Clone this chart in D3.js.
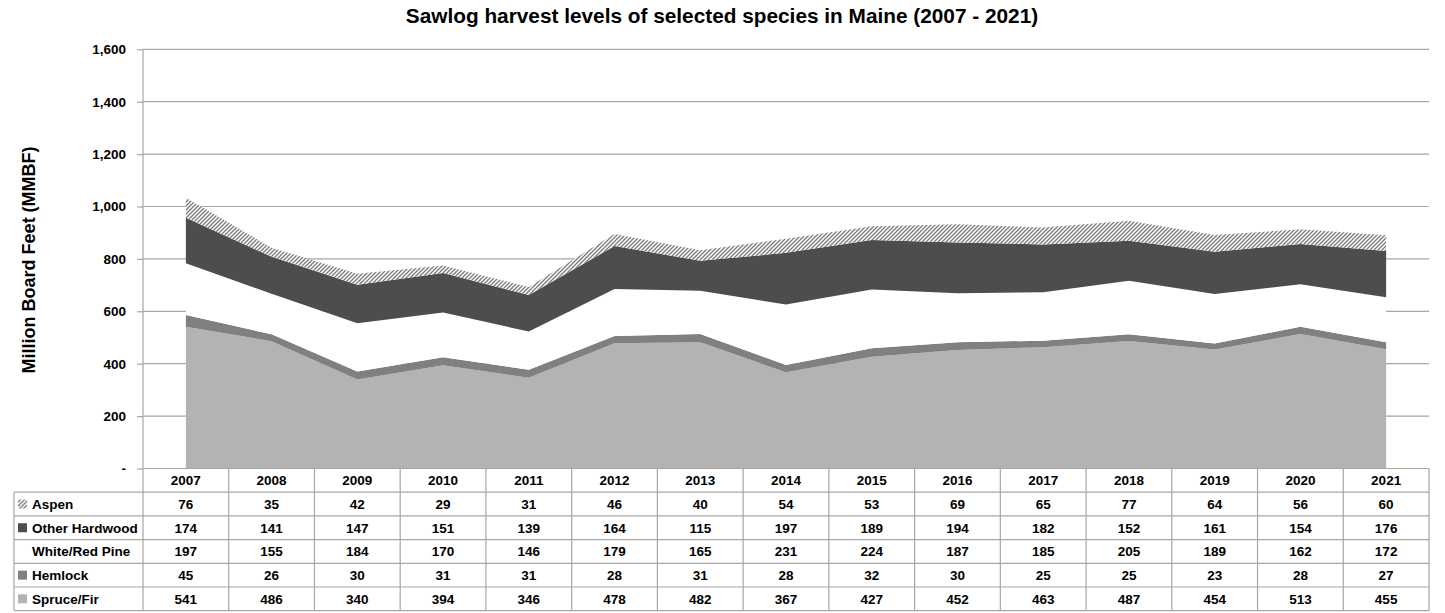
<!DOCTYPE html>
<html>
<head>
<meta charset="utf-8">
<script src="https://cdn.jsdelivr.net/npm/d3@7"></script>
<style>
  body { margin: 0; background: #fff; }
  svg text { font-family: "Liberation Sans", Arial, sans-serif; font-weight: bold; fill: #000; }
</style>
</head>
<body>
<div id="chart"></div>
<script>
// sawlog harvest, MMBF
var years = [2007, 2008, 2009, 2010, 2011, 2012, 2013, 2014, 2015, 2016, 2017, 2018, 2019, 2020, 2021];
var aspen = [76, 35, 42, 29, 31, 46, 40, 54, 53, 69, 65, 77, 64, 56, 60];
var otherHardwood = [174, 141, 147, 151, 139, 164, 115, 197, 189, 194, 182, 152, 161, 154, 176];
var whiteRedPine = [197, 155, 184, 170, 146, 179, 165, 231, 224, 187, 185, 205, 189, 162, 172];
var hemlock = [45, 26, 30, 31, 31, 28, 31, 28, 32, 30, 25, 25, 23, 28, 27];
var spruceFir = [541, 486, 340, 394, 346, 478, 482, 367, 427, 452, 463, 487, 454, 513, 455];
var yTicks = [0, 200, 400, 600, 800, 1000, 1200, 1400, 1600];

// bottom to top in the stack, top to bottom in the table
var series = [
    {key: "spruceFir", name: "Spruce/Fir", values: spruceFir, fill: "#b3b3b3"},
    {key: "hemlock", name: "Hemlock", values: hemlock, fill: "#808080"},
    {key: "whiteRedPine", name: "White/Red Pine", values: whiteRedPine, fill: "#ffffff"},
    {key: "otherHardwood", name: "Other Hardwood", values: otherHardwood, fill: "#4d4d4d"},
    {key: "aspen", name: "Aspen", values: aspen, fill: "url(#hatch)"}
];

var w = 1445, h = 613;
var plotLeft = 143, plotRight = 1429, plotTop = 49.3, plotBottom = 468.5;
var rowH = 23.7;

var svg = d3.select("#chart").append("svg")
    .attr("width", w)
    .attr("height", h);

var defs = svg.append("defs");
var pat = defs.append("pattern")
    .attr("id", "hatch")
    .attr("patternUnits", "userSpaceOnUse")
    .attr("width", 4)
    .attr("height", 4);
pat.append("rect").attr("width", 4).attr("height", 4).attr("fill", "#fff");
pat.append("path")
    .attr("d", "M-1,1 l2,-2 M0,4 l4,-4 M3,5 l2,-2")
    .attr("stroke", "#7a7a7a")
    .attr("stroke-width", 1.3);

var x = d3.scaleBand().domain(years).range([plotLeft, plotRight]);
var y = d3.scaleLinear().domain([0, 1600]).range([plotBottom, plotTop]);

// title
svg.append("text")
    .attr("x", 722)
    .attr("y", 23)
    .attr("text-anchor", "middle")
    .style("font-size", "20.8px")
    .text("Sawlog harvest levels of selected species in Maine (2007 - 2021)");

// y label
svg.append("text")
    .attr("transform", "translate(35," + ((plotTop + plotBottom) / 2 + 1) + ") rotate(-90)")
    .attr("text-anchor", "middle")
    .style("font-size", "18px")
    .text("Million Board Feet (MMBF)");

// gridlines
svg.append("g").selectAll("line")
    .data(yTicks.filter(function(d) { return d > 0; }))
    .enter().append("line")
    .attr("x1", plotLeft).attr("x2", plotRight)
    .attr("y1", function(d) { return y(d); })
    .attr("y2", function(d) { return y(d); })
    .attr("stroke", "#a6a6a6")
    .attr("stroke-width", 1.2);

// stacked areas
var table = years.map(function(yr, i) {
    var row = {year: yr};
    series.forEach(function(s) { row[s.key] = s.values[i]; });
    return row;
});
var stack = d3.stack().keys(series.map(function(s) { return s.key; }));
var layers = stack(table);

var area = d3.area()
    .x(function(d) { return x(d.data.year) + x.bandwidth() / 2; })
    .y0(function(d) { return y(d[0]); })
    .y1(function(d) { return y(d[1]); });

svg.append("g").selectAll("path")
    .data(layers)
    .enter().append("path")
    .attr("d", area)
    .attr("fill", function(d, i) { return series[i].fill; });

// y axis
var yAxis = d3.axisLeft(y)
    .tickValues(yTicks)
    .tickSize(6)
    .tickPadding(11)
    .tickFormat(function(d) { return d === 0 ? "-" : d3.format(",")(d); });

var ax = svg.append("g")
    .attr("transform", "translate(" + plotLeft + ",0)")
    .call(yAxis);
ax.select(".domain").remove();
ax.selectAll(".tick line").attr("stroke", "#a6a6a6").attr("stroke-width", 1.2);
ax.selectAll(".tick text")
    .style("font-size", "13.5px")
    .style("font-family", "'Liberation Sans', Arial, sans-serif")
    .style("font-weight", "bold")
    .attr("fill", "#000");

svg.append("line")
    .attr("x1", plotLeft).attr("x2", plotLeft)
    .attr("y1", plotTop).attr("y2", plotBottom)
    .attr("stroke", "#a6a6a6")
    .attr("stroke-width", 1.2);

// data table
var grid = svg.append("g").attr("stroke", "#a6a6a6").attr("stroke-width", 1.2);
var tTop = plotBottom;
var hdrBottom = tTop + rowH;
var tBottom = hdrBottom + rowH * series.length;
var legLeft = 14;

grid.append("line").attr("x1", plotLeft).attr("x2", plotRight).attr("y1", tTop).attr("y2", tTop);
for (var r = 0; r <= series.length; r++) {
    grid.append("line")
        .attr("x1", legLeft).attr("x2", plotRight)
        .attr("y1", hdrBottom + r * rowH).attr("y2", hdrBottom + r * rowH);
}
grid.append("line").attr("x1", legLeft).attr("x2", legLeft).attr("y1", hdrBottom).attr("y2", tBottom);
years.forEach(function(yr) {
    grid.append("line")
        .attr("x1", x(yr)).attr("x2", x(yr))
        .attr("y1", tTop).attr("y2", tBottom);
});
grid.append("line").attr("x1", plotRight).attr("x2", plotRight).attr("y1", tTop).attr("y2", tBottom);

svg.append("g").selectAll("text")
    .data(years)
    .enter().append("text")
    .attr("x", function(d) { return x(d) + x.bandwidth() / 2; })
    .attr("y", tTop + rowH / 2 + 5)
    .attr("text-anchor", "middle")
    .style("font-size", "13.5px")
    .text(function(d) { return d; });

var rows = series.slice().reverse();
var rowG = svg.append("g").selectAll("g")
    .data(rows)
    .enter().append("g")
    .attr("transform", function(d, i) { return "translate(0," + (hdrBottom + i * rowH) + ")"; });

rowG.append("rect")
    .attr("x", 18).attr("y", rowH / 2 - 4.5)
    .attr("width", 9).attr("height", 9)
    .attr("fill", function(d) { return d.fill; });

rowG.append("text")
    .attr("x", 32)
    .attr("y", rowH / 2 + 5)
    .style("font-size", "13.5px")
    .text(function(d) { return d.name; });

rowG.selectAll(".val")
    .data(function(d) { return d.values; })
    .enter().append("text")
    .attr("class", "val")
    .attr("x", function(d, i) { return x(years[i]) + x.bandwidth() / 2; })
    .attr("y", rowH / 2 + 5)
    .attr("text-anchor", "middle")
    .style("font-size", "13.5px")
    .text(function(d) { return d; });
</script>
</body>
</html>
